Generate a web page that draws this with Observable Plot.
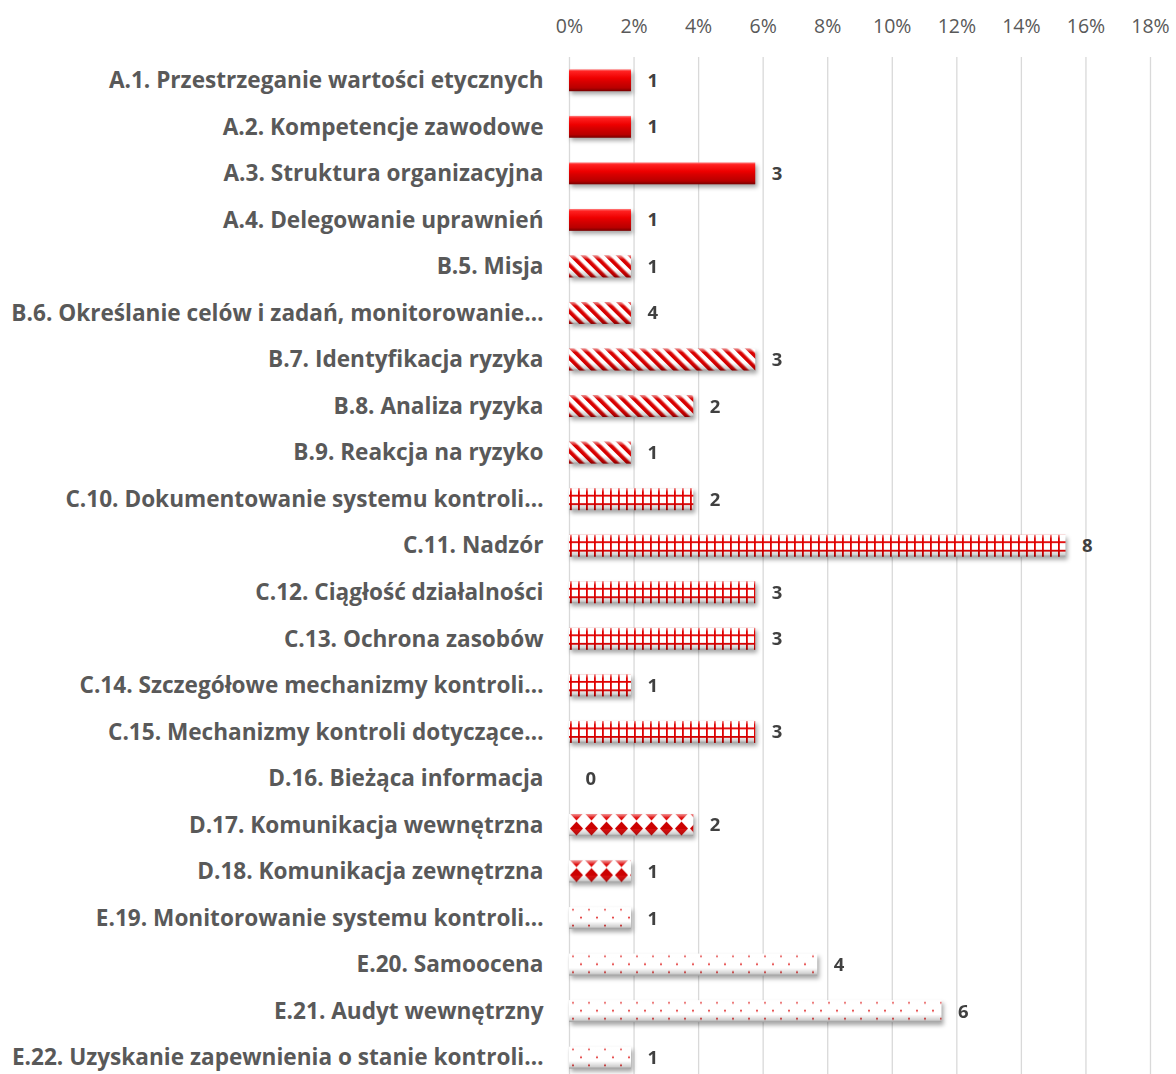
<!DOCTYPE html>
<html>
<head>
<meta charset="utf-8">
<script src="https://cdn.jsdelivr.net/npm/d3@7"></script>
<script src="https://cdn.jsdelivr.net/npm/@observablehq/plot@0.6"></script>
<style>
  html, body { margin: 0; padding: 0; background: #fff; }
  svg { font-family: "Open Sans", Lato, sans-serif; }
  .barshadow { filter: drop-shadow(2px 3px 2px rgba(0,0,0,0.35)); }
</style>
</head>
<body>
<div id="chart"></div>
<script>
const categories = [
  "A.1. Przestrzeganie wartości etycznych",
  "A.2. Kompetencje zawodowe",
  "A.3. Struktura organizacyjna",
  "A.4. Delegowanie uprawnień",
  "B.5. Misja",
  "B.6. Określanie celów i zadań, monitorowanie…",
  "B.7. Identyfikacja ryzyka",
  "B.8. Analiza ryzyka",
  "B.9. Reakcja na ryzyko",
  "C.10. Dokumentowanie systemu kontroli…",
  "C.11. Nadzór",
  "C.12. Ciągłość działalności",
  "C.13. Ochrona zasobów",
  "C.14. Szczegółowe mechanizmy kontroli…",
  "C.15. Mechanizmy kontroli dotyczące…",
  "D.16. Bieżąca informacja",
  "D.17. Komunikacja wewnętrzna",
  "D.18. Komunikacja zewnętrzna",
  "E.19. Monitorowanie systemu kontroli…",
  "E.20. Samoocena",
  "E.21. Audyt wewnętrzny",
  "E.22. Uzyskanie zapewnienia o stanie kontroli…"
];
const counts = [1, 1, 3, 1, 1, 4, 3, 2, 1, 2, 8, 3, 3, 1, 3, 0, 2, 1, 1, 4, 6, 1];
const percents = [1.92, 1.92, 5.77, 1.92, 1.92, 1.92, 5.77, 3.85, 1.92, 3.85, 15.38, 5.77, 5.77, 1.92, 5.77, 0, 3.85, 1.92, 1.92, 7.69, 11.54, 1.92];
const groups = ["A", "B", "C", "D", "E"];
const xTicks = [0, 2, 4, 6, 8, 10, 12, 14, 16, 18];

const data = categories.map((c, i) => ({cat: c, count: counts[i], pct: percents[i], group: c[0]}));

const groupMarks = groups.map(g =>
  Plot.barX(data.filter(d => d.group === g && d.pct > 0), {
    x: "pct", y: "cat",
    fill: g === "A" ? "url(#gradA)" : `url(#pat${g})`,
    className: g === "A" ? "barshadow" : "barshadow patbar"
  })
);
const bevelMark = Plot.barX(data.filter(d => d.group !== "A" && d.pct > 0), {
  x: "pct", y: "cat", fill: "url(#bevel)"
});

const chart = Plot.plot({
  width: 1176,
  height: 1074,
  marginLeft: 569,
  marginRight: 26,
  marginTop: 57,
  marginBottom: 0,
  style: {fontFamily: "'Open Sans', Lato, sans-serif", background: "#fff"},
  x: {domain: [0, 18], range: [569, 1150]},
  y: {domain: categories, range: [57, 1081], paddingInner: 0.53, paddingOuter: 0.265, round: false},
  marks: [
    Plot.ruleX(xTicks, {stroke: "#d9d9d9", strokeWidth: 1.3}),
    Plot.axisX({anchor: "top", ticks: xTicks, tickFormat: d => d + "%", tickSize: 0, tickPadding: 25,
                fontSize: 19.5, fill: "#595959", label: null}),
    Plot.axisY({tickSize: 0, tickPadding: 26, fontSize: 22.6, fontWeight: "bold", fill: "#595959", label: null}),
    ...groupMarks,
    bevelMark,
    Plot.text(data, {x: "pct", y: "cat", text: d => String(d.count), dx: 16, textAnchor: "start",
                     fontWeight: "bold", fontSize: 18.5, fill: "#404040"})
  ]
});

document.getElementById("chart").appendChild(chart);

// definitions of gradients and patterns
const svg = d3.select(chart);
const defs = svg.insert("defs", ":first-child");

const gA = defs.append("linearGradient").attr("id", "gradA").attr("x1", 0).attr("y1", 0).attr("x2", 0).attr("y2", 1);
[[0, "#ff8080"], [0.1, "#ff2020"], [0.4, "#ee0000"], [0.55, "#d80000"], [0.85, "#b80000"], [1, "#780000"]]
  .forEach(([o, c]) => gA.append("stop").attr("offset", o).attr("stop-color", c));

const bev = defs.append("linearGradient").attr("id", "bevel").attr("x1", 0).attr("y1", 0).attr("x2", 0).attr("y2", 1);
[[0, "#ffffff", 0.55], [0.18, "#ffffff", 0.0], [0.65, "#000000", 0.0], [0.9, "#000000", 0.18], [1, "#000000", 0.4]]
  .forEach(([o, c, a]) => bev.append("stop").attr("offset", o).attr("stop-color", c).attr("stop-opacity", a));

// B: diagonal stripes
const pB = defs.append("pattern").attr("id", "patB").attr("patternUnits", "userSpaceOnUse")
  .attr("width", 8.3).attr("height", 8.3).attr("patternTransform", "rotate(-45)");
pB.append("rect").attr("width", 8.3).attr("height", 8.3).attr("fill", "#ffffff");
pB.append("rect").attr("x", 0).attr("width", 3.6).attr("height", 8.3).attr("fill", "#d80000");
pB.append("rect").attr("x", 3.6).attr("width", 0.8).attr("height", 8.3).attr("fill", "#f08080");

// C: grid
const pC = defs.append("pattern").attr("id", "patC").attr("patternUnits", "userSpaceOnUse")
  .attr("width", 8).attr("height", 8.5).attr("x", 1).attr("y", -2);
pC.append("rect").attr("width", 8).attr("height", 8.5).attr("fill", "#ffffff");
pC.append("rect").attr("x", 0).attr("width", 1.8).attr("height", 8.5).attr("fill", "#e00000");
pC.append("rect").attr("y", 0).attr("width", 8).attr("height", 1.8).attr("fill", "#e00000");

// D: diamonds
const pD = defs.append("pattern").attr("id", "patD").attr("patternUnits", "userSpaceOnUse")
  .attr("width", 15).attr("height", 15);
pD.append("rect").attr("width", 15).attr("height", 15).attr("fill", "#ffffff");
pD.append("path").attr("d", "M7.5,7.5 L14,14.5 L7.5,21.5 L1,14.5 Z").attr("fill", "#cc0000");
pD.append("path").attr("d", "M7.5,-7.5 L14,-0.5 L7.5,6.5 L1,-0.5 Z").attr("fill", "#e01010");

// E: dots
const pE = defs.append("pattern").attr("id", "patE").attr("patternUnits", "userSpaceOnUse")
  .attr("width", 16).attr("height", 16);
pE.append("rect").attr("width", 16).attr("height", 16).attr("fill", "#ffffff");
pE.append("circle").attr("cx", 4).attr("cy", 2.5).attr("r", 1).attr("fill", "#e02020");
pE.append("circle").attr("cx", 12).attr("cy", 10.5).attr("r", 1).attr("fill", "#e02020");

// align pattern origin with each bar's top-left corner
chart.querySelectorAll(".patbar rect").forEach(r => {
  const x = +r.getAttribute("x"), y = +r.getAttribute("y");
  r.setAttribute("transform", `translate(${x},${y})`);
  r.setAttribute("x", 0);
  r.setAttribute("y", 0);
});
</script>
</body>
</html>
